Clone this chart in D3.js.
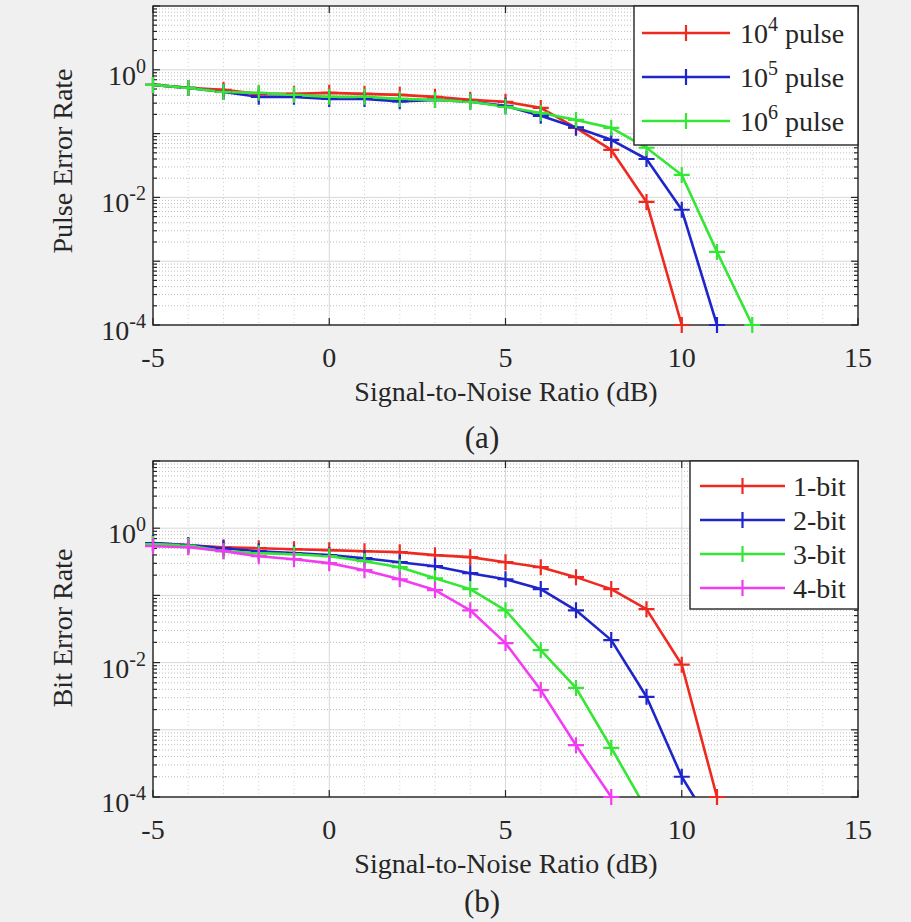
<!DOCTYPE html>
<html>
<head>
<meta charset="utf-8">
<script src="https://cdn.jsdelivr.net/npm/d3@7"></script>
<style>
	body { margin: 0; background: #f0f0f0; }
	text { font-family: "Liberation Serif", "Times New Roman", serif; fill: #262626; }
</style>
</head>
<body>
<div id="chart"></div>
<script>
// SNR values (dB), shared by every series; each series uses the first N of them
const snr = [-5, -4, -3, -2, -1, 0, 1, 2, 3, 4, 5, 6, 7, 8, 9, 10, 11, 12];

// (a) pulse error rate
const pulse1e4 = [0.58, 0.52, 0.485, 0.42, 0.42, 0.435, 0.42, 0.405, 0.377, 0.338, 0.315, 0.253, 0.123, 0.0555, 0.0085, 1e-4];
const pulse1e5 = [0.58, 0.52, 0.45, 0.377, 0.377, 0.35, 0.35, 0.32, 0.338, 0.315, 0.272, 0.19, 0.125, 0.08, 0.04, 0.0064, 1e-4];
const pulse1e6 = [0.58, 0.52, 0.45, 0.435, 0.405, 0.377, 0.377, 0.35, 0.338, 0.315, 0.263, 0.211, 0.164, 0.123, 0.06, 0.0225, 0.0014, 1e-4];

// (b) bit error rate
const bit1 = [0.6, 0.558, 0.521, 0.504, 0.487, 0.471, 0.455, 0.44, 0.397, 0.371, 0.312, 0.263, 0.187, 0.124, 0.0624, 0.0093, 1e-4];
const bit2 = [0.6, 0.56, 0.504, 0.455, 0.425, 0.397, 0.358, 0.312, 0.272, 0.214, 0.174, 0.124, 0.06, 0.0216, 0.0031, 0.0002, 2.8e-5];
const bit3 = [0.58, 0.55, 0.455, 0.425, 0.41, 0.383, 0.323, 0.263, 0.18, 0.124, 0.06, 0.0153, 0.0042, 0.00054, 6.5e-5];
const bit4 = [0.54, 0.521, 0.455, 0.383, 0.346, 0.302, 0.237, 0.174, 0.12, 0.06, 0.0195, 0.0039, 0.00059, 1e-4];

const pulseLabels = [["10", "4", " pulse"], ["10", "5", " pulse"], ["10", "6", " pulse"]];
const bitLabels = ["1-bit", "2-bit", "3-bit", "4-bit"];

const xTicks = [-5, 0, 5, 10, 15];
const yTicks = [1e-4, 1e-2, 1e0];

const RED = "#ee2a20", BLUE = "#1f26c9", GREEN = "#36e636", MAGENTA = "#f23cf2";

const width = 911, height = 922;
const fontSize = 28;

const svg = d3.select("#chart").append("svg")
	.attr("width", width)
	.attr("height", height);

svg.append("rect").attr("width", width).attr("height", height).attr("fill", "#f0f0f0");

const x = d3.scaleLinear().domain([-5, 15]).range([153, 858]);

function drawPanel(opts) {
	const y = d3.scaleLog().domain([1e-4, 10]).range([opts.bottom, opts.top]);
	const g = svg.append("g");
	const [x0, x1] = x.range();
	const y0 = opts.top, y1 = opts.bottom;

	g.append("rect")
		.attr("x", x0).attr("y", y0)
		.attr("width", x1 - x0).attr("height", y1 - y0)
		.attr("fill", "#fff");

	// minor grid (dotted)
	const minorY = [];
	for (let e = -4; e <= 0; e++) for (let k = 2; k <= 9; k++) minorY.push(k * Math.pow(10, e));
	const minorX = d3.range(-4, 15).filter((v) => v % 5 !== 0);

	g.append("g").selectAll("line").data(minorY).join("line")
		.attr("x1", x0).attr("x2", x1)
		.attr("y1", (d) => y(d)).attr("y2", (d) => y(d))
		.attr("stroke", "#bdbdbd").attr("stroke-width", 1)
		.attr("stroke-dasharray", "1,2");
	g.append("g").selectAll("line").data(minorX).join("line")
		.attr("y1", y0).attr("y2", y1)
		.attr("x1", (d) => x(d)).attr("x2", (d) => x(d))
		.attr("stroke", "#d0d0d0").attr("stroke-width", 1)
		.attr("stroke-dasharray", "1,3");

	// major grid
	const majorY = [1e-4, 1e-3, 1e-2, 1e-1, 1e0];
	g.append("g").selectAll("line").data(majorY).join("line")
		.attr("x1", x0).attr("x2", x1)
		.attr("y1", (d) => y(d)).attr("y2", (d) => y(d))
		.attr("stroke", "#d8d8d8").attr("stroke-width", 1);
	g.append("g").selectAll("line").data(xTicks).join("line")
		.attr("y1", y0).attr("y2", y1)
		.attr("x1", (d) => x(d)).attr("x2", (d) => x(d))
		.attr("stroke", "#d8d8d8").attr("stroke-width", 1);

	// ticks inside the box
	const ticks = g.append("g").attr("stroke", "#262626").attr("stroke-width", 1.2);
	majorY.concat([10]).forEach((v) => {
		ticks.append("line").attr("x1", x0).attr("x2", x0 + 7).attr("y1", y(v)).attr("y2", y(v));
		ticks.append("line").attr("x1", x1).attr("x2", x1 - 7).attr("y1", y(v)).attr("y2", y(v));
	});
	minorY.concat(d3.range(2, 10).map((k) => k * 10)).filter((v) => v < 10).forEach((v) => {
		ticks.append("line").attr("x1", x0).attr("x2", x0 + 4).attr("y1", y(v)).attr("y2", y(v));
		ticks.append("line").attr("x1", x1).attr("x2", x1 - 4).attr("y1", y(v)).attr("y2", y(v));
	});
	xTicks.forEach((v) => {
		ticks.append("line").attr("x1", x(v)).attr("x2", x(v)).attr("y1", y1).attr("y2", y1 - 7);
		ticks.append("line").attr("x1", x(v)).attr("x2", x(v)).attr("y1", y0).attr("y2", y0 + 7);
	});

	// series: lines clipped to the box, markers drawn whole when inside the y range
	const clipId = "clip-" + opts.name;
	svg.append("clipPath").attr("id", clipId)
		.append("rect").attr("x", x0).attr("y", y0).attr("width", x1 - x0).attr("height", y1 - y0);

	const line = d3.line().x((d) => x(d[0])).y((d) => y(d[1]));
	const plot = g.append("g").attr("clip-path", `url(#${clipId})`);
	const marks = g.append("g");
	opts.series.forEach((s) => {
		const pts = s.values.map((v, i) => [snr[i], v]);
		plot.append("path")
			.attr("d", line(pts))
			.attr("fill", "none")
			.attr("stroke", s.color)
			.attr("stroke-width", 2.6)
			.attr("stroke-linejoin", "round");
		marks.append("g").selectAll("path").data(pts.filter((d) => d[1] >= 1e-4)).join("path")
			.attr("transform", (d) => `translate(${x(d[0])},${y(d[1])})`)
			.attr("d", "M-8,0H8M0,-8V8")
			.attr("stroke", s.color)
			.attr("stroke-width", 2.2);
	});

	// box
	g.append("rect")
		.attr("x", x0).attr("y", y0)
		.attr("width", x1 - x0).attr("height", y1 - y0)
		.attr("fill", "none").attr("stroke", "#262626").attr("stroke-width", 1.4);
	g.node().appendChild(marks.node());

	// tick labels
	xTicks.forEach((v) => {
		g.append("text")
			.attr("x", x(v)).attr("y", y1 + 42)
			.attr("text-anchor", "middle")
			.style("font-size", fontSize + "px")
			.text(v);
	});
	yTicks.forEach((v) => {
		const t = g.append("text")
			.attr("x", x0 - 7).attr("y", y(v) + 15)
			.attr("text-anchor", "end")
			.style("font-size", fontSize + "px");
		t.append("tspan").text("10");
		t.append("tspan").attr("dy", -12).style("font-size", "20px").text(Math.round(Math.log10(v)));
	});

	// axis labels
	g.append("text")
		.attr("x", 506).attr("y", y1 + 76)
		.attr("text-anchor", "middle")
		.style("font-size", fontSize + "px")
		.text("Signal-to-Noise Ratio (dB)");
	g.append("text")
		.attr("transform", `translate(72,${opts.labelY}) rotate(-90)`)
		.attr("text-anchor", "middle")
		.style("font-size", fontSize + "px")
		.text(opts.yLabel);
	g.append("text")
		.attr("x", 482).attr("y", opts.captionY)
		.attr("text-anchor", "middle")
		.style("font-size", "31px")
		.text(opts.caption);

	// legend
	const L = opts.legend;
	const lg = g.append("g");
	lg.append("rect")
		.attr("x", L.x).attr("y", y0)
		.attr("width", x1 - L.x).attr("height", L.bottom - y0)
		.attr("fill", "#fff").attr("stroke", "#262626").attr("stroke-width", 1.4);
	opts.series.forEach((s, i) => {
		const ly = L.firstY + i * L.step;
		lg.append("line")
			.attr("x1", L.lineX0).attr("x2", L.lineX1).attr("y1", ly).attr("y2", ly)
			.attr("stroke", s.color).attr("stroke-width", 2.6);
		lg.append("path")
			.attr("transform", `translate(${(L.lineX0 + L.lineX1) / 2},${ly})`)
			.attr("d", "M-8,0H8M0,-8V8")
			.attr("stroke", s.color).attr("stroke-width", 2.2);
		const t = lg.append("text")
			.attr("x", L.textX).attr("y", ly + 10)
			.style("font-size", fontSize + "px");
		if (Array.isArray(s.label)) {
			t.append("tspan").text(s.label[0]);
			t.append("tspan").attr("dy", -12).style("font-size", "20px").text(s.label[1]);
			t.append("tspan").attr("dy", 12).text(s.label[2]);
		} else {
			t.text(s.label);
		}
	});
}

drawPanel({
	name: "a",
	top: 6,
	bottom: 325,
	yLabel: "Pulse Error Rate",
	labelY: 161,
	caption: "(a)",
	captionY: 448,
	series: [
		{ values: pulse1e4, color: RED, label: pulseLabels[0] },
		{ values: pulse1e5, color: BLUE, label: pulseLabels[1] },
		{ values: pulse1e6, color: GREEN, label: pulseLabels[2] },
	],
	legend: { x: 634, bottom: 145, firstY: 33, step: 44, lineX0: 642, lineX1: 730, textX: 740 },
});

drawPanel({
	name: "b",
	top: 461,
	bottom: 797,
	yLabel: "Bit Error Rate",
	labelY: 628,
	caption: "(b)",
	captionY: 912,
	series: [
		{ values: bit1, color: RED, label: bitLabels[0] },
		{ values: bit2, color: BLUE, label: bitLabels[1] },
		{ values: bit3, color: GREEN, label: bitLabels[2] },
		{ values: bit4, color: MAGENTA, label: bitLabels[3] },
	],
	legend: { x: 690, bottom: 609, firstY: 486, step: 34, lineX0: 700, lineX1: 785, textX: 793 },
});
</script>
</body>
</html>
